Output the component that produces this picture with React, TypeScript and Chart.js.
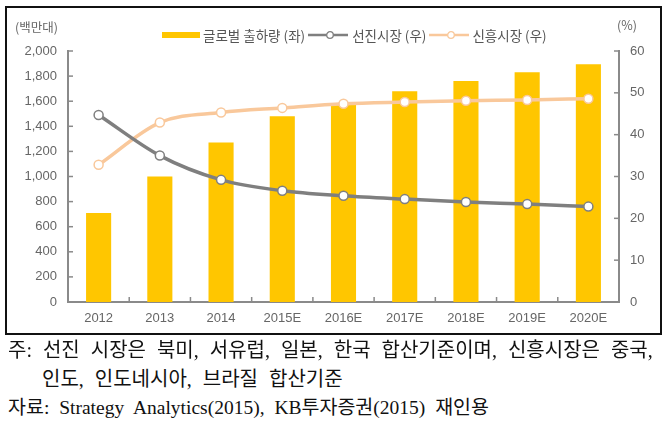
import React, { useEffect, useRef } from "react";
import { Chart, registerables } from "chart.js";

Chart.register(...registerables);

const categories = ["2012", "2013", "2014", "2015E", "2016E", "2017E", "2018E", "2019E", "2020E"];
const globalShipments = [710, 1000, 1270, 1480, 1585, 1680, 1760, 1830, 1895];
const developedShare = [44.7, 35.0, 29.2, 26.6, 25.4, 24.6, 23.9, 23.4, 22.8];
const emergingShare = [32.8, 42.9, 45.3, 46.4, 47.4, 47.8, 48.1, 48.3, 48.6];
const leftTicks = { min: 0, max: 2000, step: 200 };
const rightTicks = { min: 0, max: 60, step: 10 };

const legendLabels = ["글로벌 출하량 (좌)", "선진시장 (우)", "신흥시장 (우)"];
const leftUnit = "(백만대)";
const rightUnit = "(%)";
const noteLine1 = "주: 선진 시장은 북미, 서유럽, 일본, 한국 합산기준이며, 신흥시장은 중국,";
const noteLine2 = "인도, 인도네시아, 브라질 합산기준";
const noteLine3 = "자료: Strategy Analytics(2015), KB투자증권(2015) 재인용";

const BAR = "#FFC600";
const GRAY = "#7F7F7F";
const ORANGE = "#F9C89B";
const AXIS = "#8A8A8A";
const TICKTXT = "#666666";

const innerTicks = {
  id: "innerTicks",
  afterDraw(chart: any) {
    const { ctx, chartArea, scales } = chart;
    const { left, right, bottom } = chartArea;
    ctx.save();
    ctx.strokeStyle = AXIS;
    ctx.lineWidth = 1.5;
    const line = (x1: number, y1: number, x2: number, y2: number) => {
      ctx.beginPath();
      ctx.moveTo(x1, y1);
      ctx.lineTo(x2, y2);
      ctx.stroke();
    };
    scales.y.ticks.forEach((_t: any, i: number) => {
      const y = scales.y.getPixelForTick(i);
      line(left, y, left + 5, y);
    });
    scales.y1.ticks.forEach((_t: any, i: number) => {
      const y = scales.y1.getPixelForTick(i);
      line(right - 5, y, right, y);
    });
    const n = categories.length;
    for (let i = 1; i < n; i++) {
      const x = (scales.x.getPixelForValue(i - 1) + scales.x.getPixelForValue(i)) / 2;
      line(x, bottom, x, bottom - 5);
    }
    ctx.restore();
  },
};

function ChartCanvas() {
  const ref = useRef<HTMLCanvasElement | null>(null);
  useEffect(() => {
    if (!ref.current) return;
    const tickFont = { family: "'Liberation Sans', Arial, sans-serif", size: 13 };
    const chart = new Chart(ref.current, {
      type: "bar",
      data: {
        labels: categories,
        datasets: [
          {
            type: "line",
            label: legendLabels[1],
            data: developedShare,
            yAxisID: "y1",
            borderColor: GRAY,
            borderWidth: 3.5,
            pointRadius: 4.5,
            pointBackgroundColor: "#fff",
            pointBorderColor: GRAY,
            pointBorderWidth: 1.5,
            cubicInterpolationMode: "monotone",
            order: 0,
          } as any,
          {
            type: "line",
            label: legendLabels[2],
            data: emergingShare,
            yAxisID: "y1",
            borderColor: ORANGE,
            borderWidth: 3.5,
            pointRadius: 4.5,
            pointBackgroundColor: "#fff",
            pointBorderColor: ORANGE,
            pointBorderWidth: 1.5,
            cubicInterpolationMode: "monotone",
            order: 0,
          } as any,
          {
            type: "bar",
            label: legendLabels[0],
            data: globalShipments,
            yAxisID: "y",
            backgroundColor: BAR,
            barPercentage: 0.41,
            categoryPercentage: 1,
            order: 1,
          } as any,
        ],
      },
      options: {
        animation: false,
        responsive: false,
        maintainAspectRatio: false,
        layout: { padding: { top: 51, left: 0, right: 0, bottom: 0 } },
        plugins: { legend: { display: false }, tooltip: { enabled: false } },
        scales: {
          x: {
            offset: true,
            grid: { display: false, drawTicks: false },
            border: { display: true, color: AXIS, width: 2 },
            ticks: { font: tickFont, color: TICKTXT, padding: 9, maxRotation: 0 },
            afterFit: (s: any) => {
              s.height = 33;
            },
          },
          y: {
            position: "left",
            min: leftTicks.min,
            max: leftTicks.max,
            grid: { display: false, drawTicks: false },
            border: { display: true, color: AXIS, width: 2 },
            ticks: {
              stepSize: leftTicks.step,
              font: tickFont,
              color: TICKTXT,
              padding: 11,
              callback: (v: any) => Number(v).toLocaleString("en-US"),
            },
            afterFit: (s: any) => {
              s.width = 68;
            },
          },
          y1: {
            position: "right",
            min: rightTicks.min,
            max: rightTicks.max,
            grid: { display: false, drawTicks: false },
            border: { display: true, color: AXIS, width: 2 },
            ticks: { stepSize: rightTicks.step, font: tickFont, color: TICKTXT, padding: 11 },
            afterFit: (s: any) => {
              s.width = 53;
            },
          },
        },
      },
      plugins: [innerTicks],
    });
    return () => chart.destroy();
  }, []);
  return <canvas ref={ref} width={672} height={335} style={{ position: "absolute", left: 0, top: 0, width: 672, height: 335 }} />;
}

function LineMarker({ color }: { color: string }) {
  return (
    <svg width={40} height={10} style={{ display: "block" }}>
      <line x1={0} y1={5} x2={40} y2={5} stroke={color} strokeWidth={2.5} />
      <circle cx={22} cy={5} r={3.3} fill="#fff" stroke={color} strokeWidth={1.3} />
    </svg>
  );
}

export default function App() {
  const kfont = "'Noto Sans CJK KR', 'Noto Sans', sans-serif";
  const noteFont = "'Liberation Serif', 'Noto Sans CJK KR', serif";
  const legendText: React.CSSProperties = { fontFamily: kfont, fontSize: 13.5, color: "#555", whiteSpace: "nowrap", lineHeight: "16px" };
  const noteStyle: React.CSSProperties = {
    position: "absolute",
    fontFamily: noteFont,
    fontSize: 20,
    lineHeight: "22px",
    color: "#111",
    whiteSpace: "nowrap",
    wordSpacing: 6,
  };
  return (
    <div style={{ position: "fixed", left: 0, top: 0, width: 672, height: 435, background: "#fff", overflow: "hidden" }}>
      <ChartCanvas />
      <div style={{ position: "absolute", left: 5, top: 6, width: 653, height: 325, border: "2px solid #111" }} />
      <div style={{ position: "absolute", left: 15, top: 19, fontFamily: kfont, fontSize: 12.5, color: TICKTXT, lineHeight: "16px" }}>{leftUnit}</div>
      <div style={{ position: "absolute", left: 617, top: 17, fontFamily: kfont, fontSize: 12.5, color: TICKTXT, lineHeight: "16px" }}>{rightUnit}</div>
      <div style={{ position: "absolute", left: 162, top: 27, display: "flex", alignItems: "center", height: 16 }}>
        <div style={{ width: 38, height: 6, background: BAR, marginRight: 3 }} />
        <span style={legendText}>{legendLabels[0]}</span>
        <div style={{ marginLeft: 3, marginRight: 4 }}>
          <LineMarker color={GRAY} />
        </div>
        <span style={legendText}>{legendLabels[1]}</span>
        <div style={{ marginLeft: 3, marginRight: 3 }}>
          <LineMarker color={ORANGE} />
        </div>
        <span style={legendText}>{legendLabels[2]}</span>
      </div>
      <div style={{ ...noteStyle, left: 8, top: 339 }}>{noteLine1}</div>
      <div style={{ ...noteStyle, left: 42, top: 368 }}>{noteLine2}</div>
      <div style={{ ...noteStyle, left: 8, top: 397, fontSize: 19.5, wordSpacing: 5 }}>{noteLine3}</div>
    </div>
  );
}
